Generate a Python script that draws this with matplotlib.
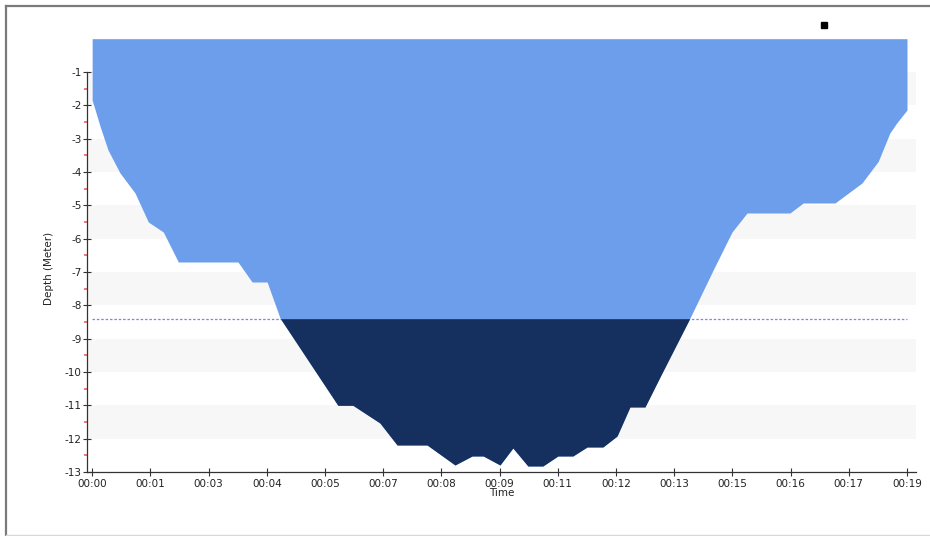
import matplotlib
matplotlib.use("Agg")
import matplotlib.pyplot as plt
import numpy as np
from matplotlib.lines import Line2D
from matplotlib.patches import Rectangle

# ---- colours ----
LIGHT_BLUE = "#6D9EEB"
NAVY = "#15305E"
BAND = "#F7F7F7"
DASH = "#7F7FFF"
AXIS = "#333333"
MINOR_RED = "#F06060"

# ---- data (minutes, metres) ----
time_min = [0.0, 0.0, 0.19, 0.37, 0.65, 1.00, 1.31, 1.66, 2.01, 3.40, 3.73, 4.08,
            4.38, 5.73, 6.08, 6.71, 7.11, 7.81, 8.46, 8.86, 9.12, 9.51, 9.81,
            10.16, 10.51, 10.86, 11.21, 11.54, 11.91, 12.24, 12.54, 12.89, 13.24,
            13.94, 14.48, 14.92, 15.27, 16.27, 16.58, 17.32, 17.95, 18.33, 18.60,
            18.76, 19.0, 19.0]
depth_m = [0.0, 1.84, 2.65, 3.34, 4.03, 4.63, 5.50, 5.80, 6.70, 6.70, 7.30, 7.30,
           8.38, 11.0, 11.0, 11.53, 12.19, 12.19, 12.79, 12.52, 12.52, 12.79, 12.28,
           12.82, 12.82, 12.52, 12.52, 12.25, 12.25, 11.92, 11.05, 11.05, 10.15,
           8.38, 6.94, 5.80, 5.23, 5.23, 4.93, 4.93, 4.33, 3.68, 2.83,
           2.53, 2.14, 0.0]
threshold = -8.4
tick_labels = ["00:00", "00:01", "00:03", "00:04", "00:05", "00:07", "00:08", "00:09",
               "00:11", "00:12", "00:13", "00:15", "00:16", "00:17", "00:19"]
y_ticks = list(range(-1, -14, -1))

t = np.array(time_min)
d = -np.array(depth_m)

W, H = 930, 536
fig = plt.figure(figsize=(W / 100, H / 100), dpi=100)
fig.patch.set_facecolor("white")

# sunken panel border
fig.add_artist(Line2D([6 / W, 6 / W], [0, 1 - 6 / H], color="#7a7a7a", lw=1.6))
fig.add_artist(Line2D([6 / W, 1], [1 - 6 / H, 1 - 6 / H], color="#7a7a7a", lw=1.6))
fig.add_artist(Line2D([6 / W, 1], [1 / H, 1 / H], color="#d8d8d8", lw=1.0))

# axes placed to match pixel layout
x0, x1 = 87, 916
ytop_px, ybot_px = 22, 472
ax = fig.add_axes([x0 / W, 1 - ybot_px / H, (x1 - x0) / W, (ybot_px - ytop_px) / H])
ax.set_xlim(-0.12, 19.21)
ax.set_ylim(-13, 0.5)
ax.set_facecolor("white")

# alternating light bands
for k in range(-2, -13, -2):
    ax.axhspan(k, k + 1, color=BAND, lw=0, zorder=0)

ax.fill_between(t, 0, d, color=LIGHT_BLUE, lw=0, zorder=2)
ax.fill_between(t, threshold, d, where=(d <= threshold), interpolate=True,
                color=NAVY, lw=0, zorder=3)
ax.hlines(threshold, 0, 19, colors=DASH, linestyles=(0, (2, 1.5)), lw=0.9, zorder=1)

for s in ["top", "right"]:
    ax.spines[s].set_visible(False)
ax.spines["left"].set_bounds(-13, -1)
ax.spines["left"].set_color(AXIS)
ax.spines["bottom"].set_color(AXIS)
ax.spines["left"].set_linewidth(0.9)
ax.spines["bottom"].set_linewidth(0.9)

ax.set_yticks(y_ticks)
ax.set_yticklabels([str(v) for v in y_ticks])
ax.set_yticks(np.arange(-12.5, -1, 1.0), minor=True)
ax.tick_params(axis="y", which="major", direction="inout", length=6, width=0.8,
               color=AXIS, labelsize=7.5, pad=1, labelcolor="#222222")
ax.tick_params(axis="y", which="minor", direction="out", length=2.5, width=1.2,
               color=MINOR_RED)

ax.set_xticks(np.linspace(0, 19, len(tick_labels)))
ax.set_xticklabels(tick_labels)
ax.tick_params(axis="x", which="major", direction="inout", length=6, width=0.8,
               color=AXIS, labelsize=7.5, pad=2, labelcolor="#222222")

ax.set_xlabel("Time", fontsize=7.5, labelpad=-1, color="#222222")
ax.set_ylabel("Depth (Meter)", fontsize=7.5, color="#222222")
ax.yaxis.set_label_coords(-0.04, (13 - 6.9) / 13.5)

# small black marker top-right
fig.add_artist(Rectangle((821 / W, 1 - 28 / H), 6 / W, 6 / H, color="black",
                         transform=fig.transFigure))

fig.savefig("out.png", dpi=100, facecolor="white")
